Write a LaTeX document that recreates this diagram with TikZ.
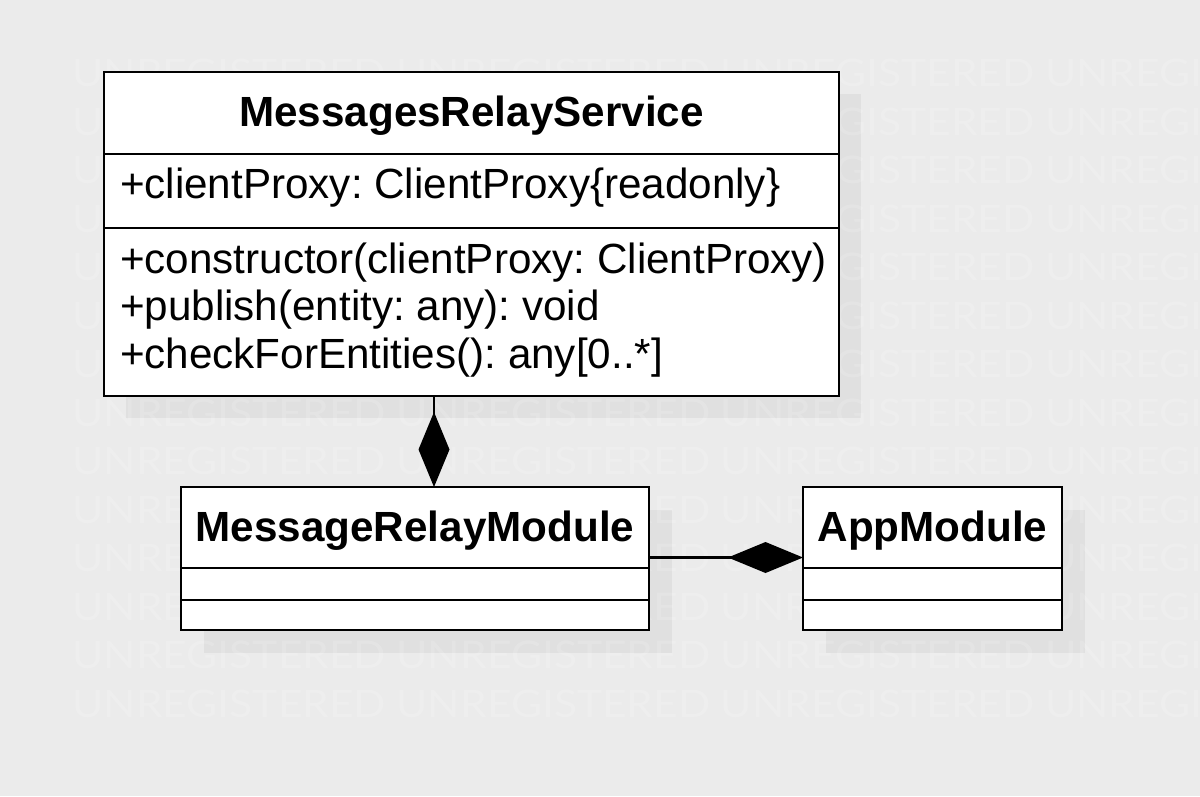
\documentclass[tikz,border=0pt]{standalone}
\usepackage{fontspec}
\setmainfont{Liberation Sans}
\newfontfamily\wmfont{Lato}
\usetikzlibrary{arrows.meta,backgrounds,calc}
\definecolor{bgc}{RGB}{235,235,235}
\definecolor{shc}{RGB}{224,224,224}
\frenchspacing
\tikzset{
  classbox/.style={draw=black, line width=2.6pt, fill=white, rectangle, inner sep=0pt, outer sep=0pt, anchor=north west},
  divider/.style={draw=black, line width=2.6pt},
  shadowbox/.style={fill=shc},
  uml/.style={inner sep=0pt, outer sep=0pt, font=\fontsize{42.2}{47.5}\selectfont},
  umlb/.style={uml, font=\fontsize{42.2}{47.5}\selectfont\bfseries},
  wm/.style={inner sep=0pt, anchor=base west, text=white, text opacity=0.16, font=\wmfont\fontsize{38}{40}\selectfont, xscale=1.12, transform shape},
  comp/.style={line width=2.6pt, -{Diamond[length=75pt, width=31pt, line width=0pt]}}
}
\begin{document}
\begin{tikzpicture}[x=1pt,y=-1pt]
\useasboundingbox (0,0) rectangle (1200,796);
% class boxes
\node[classbox, minimum width=735pt, minimum height=324pt] (svc) at (104,72) {};
\node[classbox, minimum width=468pt, minimum height=143pt] (mod) at (181,487) {};
\node[classbox, minimum width=259pt, minimum height=143pt] (app) at (803,487) {};
% background, shadows, watermark
\begin{scope}[on background layer]
  \fill[bgc] (0,0) rectangle (1200,796);
  \fill[shadowbox] ($(svc.north west)+(22,22)$) rectangle ($(svc.south east)+(22,22)$);
  \fill[shadowbox] ($(mod.north west)+(22.5,22.5)$) rectangle ($(mod.south east)+(22.5,22.5)$);
  \fill[shadowbox] ($(app.north west)+(22.5,22.5)$) rectangle ($(app.south east)+(22.5,22.5)$);
  \foreach \r in {0,...,13}{
    \foreach \k in {0,...,3}{
      \node[wm] (wm-\r-\k) at ({72+324.3*\k},{86.5+48.5*\r}) {UNREGISTERED};
    }
  }
\end{scope}
% dividers
\draw[divider] (svc.west |- 0,154) -- (svc.east |- 0,154);
\draw[divider] (svc.west |- 0,228) -- (svc.east |- 0,228);
\draw[divider] (mod.west |- 0,568) -- (mod.east |- 0,568);
\draw[divider] (mod.west |- 0,600) -- (mod.east |- 0,600);
\draw[divider] (app.west |- 0,568) -- (app.east |- 0,568);
\draw[divider] (app.west |- 0,600) -- (app.east |- 0,600);
% texts
\node[umlb, anchor=base] (svcname) at (471.5,126) {MessagesRelayService};
\node[uml, anchor=base west] (attr1) at (120,198) {+clientProxy: ClientProxy\{readonly\}};
\node[uml, anchor=base west] (op1) at (120,273) {+constructor(clientProxy: ClientProxy)};
\node[uml, anchor=base west] (op2) at (120,320.5) {+publish(entity: any): void};
\node[uml, anchor=base west] (op3) at (120,368) {+checkForEntities(): any[0..*]};
\node[umlb, anchor=base] (modname) at (415,541) {MessageRelayModule};
\node[umlb, anchor=base] (appname) at (932.5,541) {AppModule};
% connectors
\coordinate (c1) at (434,0);
\coordinate (c2) at (0,557.5);
\draw[comp] (svc.south -| c1) -- (mod.north -| c1);
\draw[comp] (mod.east |- c2) -- (app.west |- c2);
\end{tikzpicture}
\end{document}
